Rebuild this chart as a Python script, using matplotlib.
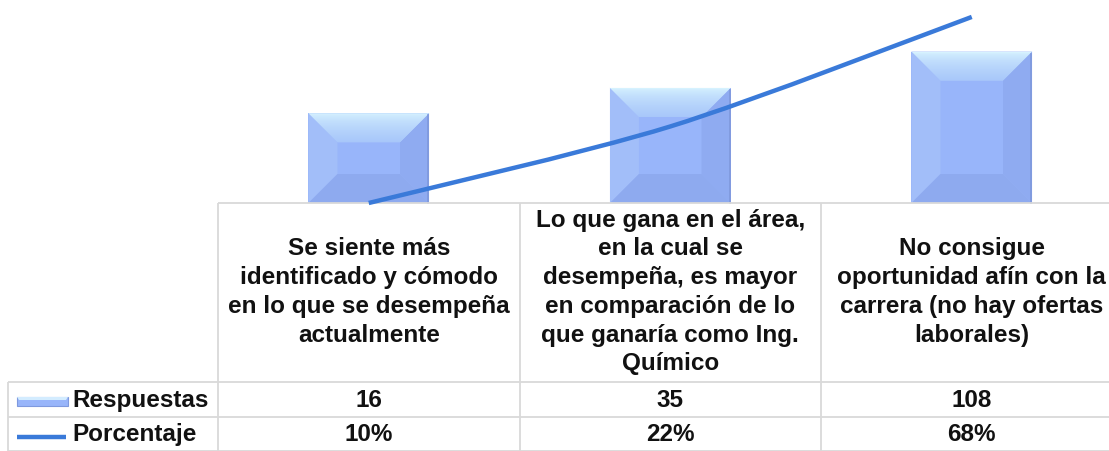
import numpy as np
import matplotlib
matplotlib.use("Agg")
from matplotlib import pyplot as plt
from matplotlib.patches import Polygon, PathPatch
from matplotlib.path import Path

# datos del gráfico
categorias = [
    "Se siente más\nidentificado y cómodo\nen lo que se desempeña\nactualmente",
    "Lo que gana en el área,\nen la cual se\ndesempeña, es mayor\nen comparación de lo\nque ganaría como Ing.\nQuímico",
    "No consigue\noportunidad afín con la\ncarrera (no hay ofertas\nlaborales)",
]
respuestas = [16, 35, 108]
porcentaje = [0.10, 0.22, 0.68]
etiquetas_resp = ["16", "35", "108"]
etiquetas_pct = ["10%", "22%", "68%"]
series = ["Respuestas", "Porcentaje"]

plt.rcParams["font.family"] = ["Liberation Sans", "DejaVu Sans"]

W, H = 1109, 451
fig = plt.figure(figsize=(W / 100, H / 100), dpi=100)

color_linea = "#3a7ad9"
color_barra = "#98b5fa"
color_rejilla = "#d9d9d9"
color_texto = "#111111"
fs = 17.5

# área de trazado: el original está recortado por arriba y por la derecha
ax = fig.add_axes([218 / W, (H - 203) / H, 904.5 / W, 223.5 / H])
ax.set_zorder(1)
ax.set_yscale("log")
ax.set_xlim(-0.5, 2.5)
ax.set_ylim(1, 1000)
ax.axis("off")

x = np.arange(len(respuestas))
base = 1
barras = ax.bar(x, [r - base for r in respuestas], bottom=base, width=0.4,
                color=color_barra, edgecolor="none")

# eje secundario (logarítmico) para el porcentaje
ax2 = ax.twinx()
ax2.set_zorder(3)
ax2.set_yscale("log")
ax2.set_ylim(0.1, 1)
ax2.set_xlim(-0.5, 2.5)
ax2.axis("off")
ax2.patch.set_visible(False)

# línea suavizada (bezier estilo Excel) en espacio log
P = np.column_stack([x, np.log10(porcentaje)])
Pe = np.vstack([P[0], P, P[-1]])
verts = [P[0]]
codes = [Path.MOVETO]
for i in range(len(P) - 1):
    p0, p1, p2, p3 = Pe[i], Pe[i + 1], Pe[i + 2], Pe[i + 3]
    verts += [p1 + (p2 - p0) / 7, p2 - (p3 - p1) / 7, p2]
    codes += [Path.CURVE4] * 3
verts = np.array(verts)
verts[:, 1] = 10 ** verts[:, 1]
ax2.add_patch(PathPatch(Path(verts, codes), fill=False, ec=color_linea,
                        lw=3.2, capstyle="butt", clip_on=False))

# capa de decoración en píxeles (bisel de las barras y tabla de datos)
deco = fig.add_axes([0, 0, 1, 1])
deco.set_zorder(2)
deco.set_xlim(0, W)
deco.set_ylim(H, 0)
deco.axis("off")
deco.patch.set_visible(False)


def bisel(x0, x1, ytop, ybot, b):
    # caras del bisel (coordenadas de imagen, y hacia abajo)
    caras = [
        ([(x0, ytop), (x1, ytop), (x1 - b, ytop + b), (x0 + b, ytop + b)], "#aecbfc"),
        ([(x0, ybot), (x0, ytop), (x0 + b, ytop + b), (x0 + b, ybot - b)], "#a2bef9"),
        ([(x1, ybot), (x1, ytop), (x1 - b, ytop + b), (x1 - b, ybot - b)], "#8fabf1"),
        ([(x0, ybot), (x1, ybot), (x1 - b, ybot - b), (x0 + b, ybot - b)], "#8eaaef"),
    ]
    for pts, c in caras:
        deco.add_patch(Polygon(pts, closed=True, fc=c, ec="none", zorder=1))
    # degradado de la cara superior
    top = Polygon(caras[0][0], closed=True, fc="none", ec="none")
    deco.add_patch(top)
    grad = np.linspace(0, 1, 64)[:, None] ** 0.6
    c_a = np.array([0.85, 0.96, 1.0])
    c_b = np.array([0.66, 0.78, 0.98])
    img = c_a + (c_b - c_a) * grad[:, :, None]
    im = deco.imshow(np.repeat(img, 2, axis=1), extent=(x0, x1, ytop + b, ytop),
                     aspect="auto", interpolation="bilinear", zorder=1.5)
    im.set_clip_path(top)
    # borde derecho algo más oscuro
    deco.plot([x1 - 1, x1 - 1], [ytop + 2, ybot], color="#7f98dc", lw=1.2, zorder=2)
    deco.set_xlim(0, W)
    deco.set_ylim(H, 0)


for bar in barras:
    bb = bar.get_window_extent()
    bisel(bb.x0, bb.x1, H - bb.y1, H - bb.y0, 29)

# tabla de datos
def col_x(v):
    return ax.transData.transform((v, 1))[0]

bordes = [col_x(v) for v in (-0.5, 0.5, 1.5, 2.5)]
centros = [col_x(v) for v in x]
y_tab, y_r1, y_r2, y_fin = 203, 382, 417, 451
x_izq = 8

kw = dict(color=color_rejilla, lw=1.3, solid_capstyle="butt")
deco.plot([bordes[0], bordes[-1]], [y_tab, y_tab], **kw)
deco.plot([x_izq, bordes[-1]], [y_r1, y_r1], **kw)
deco.plot([x_izq, bordes[-1]], [y_r2, y_r2], **kw)
deco.plot([x_izq, bordes[-1]], [y_fin, y_fin], **kw)
for bx in bordes:
    deco.plot([bx, bx], [y_tab, y_fin], **kw)
deco.plot([x_izq, x_izq], [y_r1, y_fin], **kw)

for cx, cat in zip(centros, categorias):
    deco.text(cx, 292, cat, ha="center", va="center", multialignment="center",
              fontsize=fs, fontweight="bold", color=color_texto, linespacing=1.32)

for cx, r, p in zip(centros, etiquetas_resp, etiquetas_pct):
    deco.text(cx, 407, r, ha="center", va="baseline", fontsize=fs,
              fontweight="bold", color=color_texto)
    deco.text(cx, 441, p, ha="center", va="baseline", fontsize=fs,
              fontweight="bold", color=color_texto)

# claves de la leyenda en la tabla
deco.add_patch(Polygon([(17, 397), (68, 397), (68, 406), (17, 406)], closed=True,
                       fc=color_barra, ec="#7f99de", lw=0.8))
deco.add_patch(Polygon([(17, 397), (68, 397), (66, 400), (19, 400)], closed=True,
                       fc="#d3ecff", ec="none"))
deco.plot([17, 66], [437, 437], color=color_linea, lw=3.2, solid_capstyle="butt")
deco.text(72, 407, series[0], ha="left", va="baseline", fontsize=fs,
          fontweight="bold", color=color_texto)
deco.text(72, 441, series[1], ha="left", va="baseline", fontsize=fs,
          fontweight="bold", color=color_texto)

fig.savefig("out.png", dpi=100, facecolor="white")
